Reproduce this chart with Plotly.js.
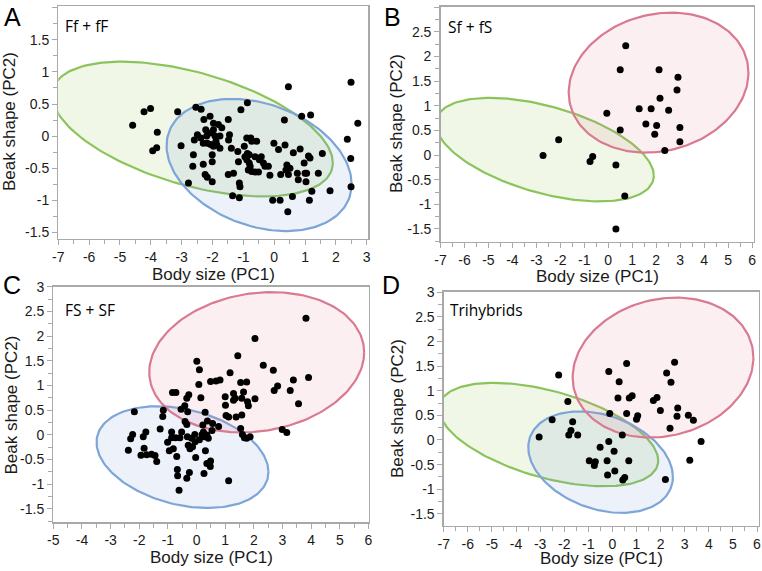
<!DOCTYPE html>
<html>
<head>
<meta charset="utf-8">
<script src="https://cdn.plot.ly/plotly-3.0.1.min.js"></script>
<style>html,body{margin:0;padding:0;background:#fff;}#chart{width:762px;height:571px;}</style>
</head>
<body>
<div id="chart"></div>
<script>
// ---------- data ----------
const panelLetters = ["A", "B", "C", "D"];
const panelNames = ["Ff + fF", "Sf + fS", "FS + SF", "Trihybrids"];
const xTitle = "Body size (PC1)";
const yTitle = "Beak shape (PC2)";

const xTickValsWide = [-7, -6, -5, -4, -3, -2, -1, 0, 1, 2, 3, 4, 5, 6];
const xTickTextWide = ["-7", "-6", "-5", "-4", "-3", "-2", "-1", "0", "1", "2", "3", "4", "5", "6"];
const xTickValsA = [-7, -6, -5, -4, -3, -2, -1, 0, 1, 2, 3];
const xTickTextA = ["-7", "-6", "-5", "-4", "-3", "-2", "-1", "0", "1", "2", "3"];
const xTickValsC = [-5, -4, -3, -2, -1, 0, 1, 2, 3, 4, 5, 6];
const xTickTextC = ["-5", "-4", "-3", "-2", "-1", "0", "1", "2", "3", "4", "5", "6"];
const yTickValsA = [-1.5, -1, -0.5, 0, 0.5, 1, 1.5, 2];
const yTickTextA = ["-1.5", "-1", "-0.5", "0", "0.5", "1", "1.5", "2"];
const yTickVals = [-1.5, -1, -0.5, 0, 0.5, 1, 1.5, 2, 2.5, 3];
const yTickText = ["-1.5", "-1", "-0.5", "0", "0.5", "1", "1.5", "2", "2.5", "3"];

// density ellipses: [meanX, meanY, sdX, sdY, covXY]
const ellipseGreen = [-2.65, 0.11, 4.55, 1.05, -2.4];
const ellipseBlue = [-0.49, -0.45, 3.0, 1.03, -0.9];
const ellipsePink = [2.1, 1.47, 3.75, 1.42, 0.75];

// Panel A: Ff + fF
const aX = [-4.59,-4.22,-4.01,-3.79,-3.81,-3.94,-3.13,-3.02,-2.54,-2.37,
  -2.28,-2.08,-1.97,-1.81,-1.70,-2.59,-2.49,-2.38,-2.30,-2.22,
  -2.19,-2.08,-1.97,-1.92,-1.89,-1.76,-1.45,-1.48,-2.17,-2.06,
  -1.97,-1.86,-1.76,-2.62,-2.64,-2.30,-2.24,-2.17,-2.01,-2.01,
  -2.01,-2.78,-1.49,-1.08,-0.87,-1.39,-1.49,-1.32,-1.35,-1.13,
  -1.11,-1.13,-1.18,-1.16,-0.97,-0.89,-0.87,-0.95,-0.81,-0.76,
  -0.73,-0.57,-0.89,-0.81,-0.84,-0.78,-0.73,-0.62,-0.51,-0.62,
  -0.48,-0.42,-0.35,-0.30,-0.19,-0.14,-0.05,-0.01,0.14,0.19,
  0.21,0.35,0.33,0.38,0.41,0.46,0.44,0.46,0.51,0.59,
  0.62,0.75,0.78,0.84,0.89,0.97,1.00,1.03,1.05,1.11,
  1.16,1.14,1.22,1.18,1.43,1.56,1.81,2.37,2.49,2.48,
  2.49,2.71];
const aY = [0.17,0.38,0.43,0.06,-0.18,-0.23,0.38,-0.15,0.45,0.42,
  0.26,0.31,0.20,0.18,0.13,-0.06,0.02,-0.03,-0.11,0.10,
  0.00,0.05,0.10,0.00,-0.08,0.00,0.02,-0.06,-0.11,-0.13,
  -0.16,-0.14,-0.19,-0.29,-0.47,-0.44,-0.60,-0.64,-0.71,-0.40,
  -0.29,-0.73,0.26,0.41,0.52,-0.19,-0.60,-0.58,-0.93,-0.73,
  -0.79,-0.96,-0.24,-0.40,-0.16,-0.03,-0.27,-0.32,-0.29,-0.03,
  -0.08,-0.08,-0.37,-0.42,-0.53,-0.47,-0.55,-0.56,-0.56,-0.32,
  -0.37,-0.32,-0.42,-0.47,-0.47,-0.61,-1.00,-0.11,-0.21,-1.00,
  -0.60,-0.14,0.25,-0.53,-0.45,0.77,-1.18,-0.60,-0.50,-0.94,
  -0.26,-0.58,-0.68,-0.20,0.31,-0.42,-0.58,-0.71,-0.58,-0.31,
  -0.34,-1.00,-0.86,0.33,-0.58,-0.27,-0.85,-0.05,0.84,-0.35,
  -0.79,0.20];

// Panel B: Sf + fS
const bX = [0.73,0.50,2.12,2.91,2.87,2.16,1.29,1.79,2.52,-0.06,1.57,2.02,0.50,2.99,1.94,2.99,2.36,-2.07,-2.72,-0.65,-0.76,0.32,0.69,0.32];
const bY = [2.22,1.73,1.73,1.58,1.32,1.15,0.94,0.94,0.91,0.85,0.63,0.60,0.51,0.56,0.42,0.27,0.09,0.31,-0.01,-0.03,-0.13,-0.20,-0.83,-1.50];

// Panel C: FS + SF
const cX = [3.82,2.04,1.44,0.01,0.10,2.33,2.68,3.91,3.38,1.17,
  0.08,0.49,0.68,0.82,1.54,1.75,2.83,2.71,3.27,3.56,
  2.04,-0.84,-0.72,-0.27,-0.34,0.15,1.00,1.29,1.35,1.64,
  1.58,1.78,1.29,1.01,1.81,-0.41,-0.54,-0.31,0.30,1.03,
  1.12,1.38,1.58,-0.40,-0.34,0.38,0.56,0.22,0.77,1.54,
  2.99,3.15,1.67,1.75,1.87,1.60,0.54,0.24,
  -2.17,-1.16,-1.18,-2.23,-2.30,-2.38,-1.86,-1.77,-1.83,-1.94,
  -1.74,-1.57,-1.45,-1.39,-1.27,-1.01,-0.87,-0.87,-0.81,-0.95,
  -0.73,-0.69,-0.58,-0.52,-0.32,-0.17,-0.29,-0.23,-0.14,-0.05,
  0.10,0.26,0.36,0.41,0.31,-0.03,0.36,0.49,0.48,0.26,
  -0.25,-0.34,-0.67,-0.66,-0.61,1.12,-0.06,0.19];
const cY = [2.36,1.95,1.60,1.49,1.32,1.41,1.31,1.16,1.11,1.26,
  1.02,1.08,1.09,1.11,1.06,1.07,0.99,0.90,0.90,0.63,
  0.73,0.86,0.86,0.81,0.74,0.75,0.77,0.84,0.74,0.87,
  0.74,0.67,0.70,0.60,0.59,0.59,0.52,0.47,0.46,0.39,
  0.36,0.36,0.40,0.27,0.21,0.28,0.23,0.20,0.17,0.13,
  0.11,0.05,-0.06,-0.07,-0.04,0.01,0.09,0.06,
  0.47,0.50,0.37,0.01,-0.08,-0.31,-0.04,0.06,-0.27,-0.41,
  -0.40,-0.39,-0.42,-0.54,0.12,-0.15,0.06,-0.06,-0.28,-0.32,
  -0.06,-0.44,-0.06,0.06,-0.04,-0.07,-0.21,-0.28,-0.24,-0.14,
  -0.10,-0.04,0.00,-0.07,-0.32,-0.46,-0.58,-0.53,-0.64,-0.78,
  -0.76,-0.88,-0.70,-0.83,-1.12,-0.93,0.01,0.01];

// Panel D: Trihybrids
const dX = [-2.23,-0.15,0.59,2.58,2.25,0.28,2.43,0.23,0.70,0.82,1.70,1.85,-1.85,0.59,1.05,1.00,1.99,2.71,2.68,3.15,3.36,2.39,-0.11,-2.50,-1.65,-1.72,-1.81,-1.44,-3.04,0.41,-0.15,-0.51,0.07,-0.96,-0.71,-0.75,-0.22,0.68,-0.20,0.10,0.43,0.51,2.20,3.21,3.68];
const dY = [1.32,1.39,1.55,1.58,1.36,1.18,1.17,0.85,0.85,0.90,0.80,0.86,0.78,0.54,0.49,0.42,0.60,0.65,0.48,0.50,0.40,0.24,0.54,0.41,0.37,0.19,0.10,0.10,0.06,0.10,-0.03,-0.15,-0.23,-0.42,-0.44,-0.52,-0.42,-0.42,-0.71,-0.63,-0.81,-0.76,-0.80,-0.41,-0.03];

// ---------- drawing ----------
const W = 762, H = 571;
const FONT = "Liberation Sans, Arial, Helvetica, sans-serif";
const AXIS_GRAY = "#a9a9a9";
const TEXT = "#1a1a1a";

const styleGreen = {line: "#8cc45c", fill: "rgba(150,200,80,0.14)"};
const styleBlue = {line: "#7ea5d8", fill: "rgba(110,150,215,0.13)"};
const stylePink = {line: "#d97a90", fill: "rgba(230,125,150,0.12)"};

function ellipseTrace(p, st, xa, ya) {
  const [mx, my, sx, sy, cxy] = p;
  const l21 = cxy / sx;
  const l22 = Math.sqrt(Math.max(sy * sy - l21 * l21, 1e-9));
  const xs = [], ys = [];
  const n = 180;
  for (let i = 0; i <= n; i++) {
    const t = 2 * Math.PI * i / n;
    const c = Math.cos(t), s = Math.sin(t);
    xs.push(mx + sx * c);
    ys.push(my + l21 * c + l22 * s);
  }
  return {x: xs, y: ys, xaxis: xa, yaxis: ya, type: "scatter", mode: "lines",
    fill: "toself", fillcolor: st.fill, line: {color: st.line, width: 2.2},
    hoverinfo: "skip", showlegend: false};
}
function pointTrace(xs, ys, xa, ya) {
  return {x: xs, y: ys, xaxis: xa, yaxis: ya, type: "scatter", mode: "markers",
    marker: {color: "#000", size: 7}, showlegend: false, hoverinfo: "x+y"};
}

const traces = [
  ellipseTrace(ellipseGreen, styleGreen, "x", "y"),
  ellipseTrace(ellipseBlue, styleBlue, "x", "y"),
  pointTrace(aX, aY, "x", "y"),
  ellipseTrace(ellipseGreen, styleGreen, "x2", "y2"),
  ellipseTrace(ellipsePink, stylePink, "x2", "y2"),
  pointTrace(bX, bY, "x2", "y2"),
  ellipseTrace(ellipseBlue, styleBlue, "x3", "y3"),
  ellipseTrace(ellipsePink, stylePink, "x3", "y3"),
  pointTrace(cX, cY, "x3", "y3"),
  ellipseTrace(ellipseGreen, styleGreen, "x4", "y4"),
  ellipseTrace(ellipseBlue, styleBlue, "x4", "y4"),
  ellipseTrace(ellipsePink, stylePink, "x4", "y4"),
  pointTrace(dX, dY, "x4", "y4")
];

function dx(l, r) { return [l / W, r / W]; }
function dy(t, b) { return [1 - b / H, 1 - t / H]; }

function xAxis(domain, range, vals, text, anchor) {
  return {domain: domain, range: range, anchor: anchor, tickmode: "array",
    tickvals: vals, ticktext: text, ticks: "outside", ticklen: 5, tickwidth: 1,
    tickcolor: AXIS_GRAY, showline: true, linecolor: AXIS_GRAY, linewidth: 1.3,
    mirror: true, showgrid: false, zeroline: false, fixedrange: true,
    minor: {dtick: 0.5, ticks: "outside", ticklen: 4, tickcolor: AXIS_GRAY, showgrid: false},
    tickfont: {family: FONT, size: 14, color: TEXT}};
}
function yAxis(domain, range, vals, text, anchor) {
  return {domain: domain, range: range, anchor: anchor, tickmode: "array",
    tickvals: vals, ticktext: text, ticks: "outside", ticklen: 5, tickwidth: 1,
    tickcolor: AXIS_GRAY, showline: true, linecolor: AXIS_GRAY, linewidth: 1.3,
    mirror: true, showgrid: false, zeroline: false, fixedrange: true,
    minor: {dtick: 0.25, ticks: "outside", ticklen: 4, tickcolor: AXIS_GRAY, showgrid: false},
    tickfont: {family: FONT, size: 14, color: TEXT}};
}

function ann(text, px, py, opts) {
  return Object.assign({text: text, x: px / W, y: 1 - py / H, xref: "paper", yref: "paper",
    showarrow: false, xanchor: "center", yanchor: "middle",
    font: {family: FONT, size: 17, color: TEXT}}, opts || {});
}
const letterFont = {family: FONT, size: 25, color: "#000"};
const nameFont = {family: "Open Sans, Noto Sans, sans-serif", size: 15.5, color: "#000"};

const annotations = [
  ann(panelLetters[0], 12, 17, {font: letterFont}),
  ann(panelLetters[1], 392, 17, {font: letterFont}),
  ann(panelLetters[2], 12, 285, {font: letterFont}),
  ann(panelLetters[3], 391, 285, {font: letterFont}),
  ann(panelNames[0], 63, 26.5, {font: nameFont, xanchor: "left"}),
  ann(panelNames[1], 446, 27, {font: nameFont, xanchor: "left"}),
  ann(panelNames[2], 63, 310, {font: nameFont, xanchor: "left"}),
  ann(panelNames[3], 448, 310, {font: nameFont, xanchor: "left"}),
  ann(xTitle, 213, 274), ann(xTitle, 597, 276),
  ann(xTitle, 211, 557), ann(xTitle, 601, 558),
  ann(yTitle, 9, 122, {textangle: -90}), ann(yTitle, 397, 124, {textangle: -90}),
  ann(yTitle, 10.5, 405, {textangle: -90}), ann(yTitle, 397, 409, {textangle: -90})
];

const layout = {
  width: W, height: H, margin: {l: 0, r: 0, t: 0, b: 0},
  paper_bgcolor: "#fff", plot_bgcolor: "rgba(0,0,0,0)", showlegend: false,
  xaxis: xAxis(dx(58.3, 368.3), [-7, 3.05], xTickValsA, xTickTextA, "y"),
  yaxis: yAxis(dy(6, 239), [-1.604, 2.028], yTickValsA, yTickTextA, "x"),
  xaxis2: xAxis(dx(440.5, 753.7), [-7, 6.07], xTickValsWide, xTickTextWide, "y2"),
  yaxis2: yAxis(dy(6.7, 241.5), [-1.754, 3.01], yTickVals, yTickText, "x2"),
  xaxis3: xAxis(dx(53.3, 369), [-5, 6.02], xTickValsC, xTickTextC, "y3"),
  yaxis3: yAxis(dy(286.7, 522.3), [-1.77, 3.0], yTickVals, yTickText, "x3"),
  xaxis4: xAxis(dx(443.7, 758.7), [-7, 6.07], xTickValsWide, xTickTextWide, "y4"),
  yaxis4: yAxis(dy(291.7, 525.7), [-1.74, 3.01], yTickVals, yTickText, "x4"),
  annotations: annotations
};

Plotly.newPlot("chart", traces, layout, {staticPlot: true, displayModeBar: false});
</script>
</body>
</html>
